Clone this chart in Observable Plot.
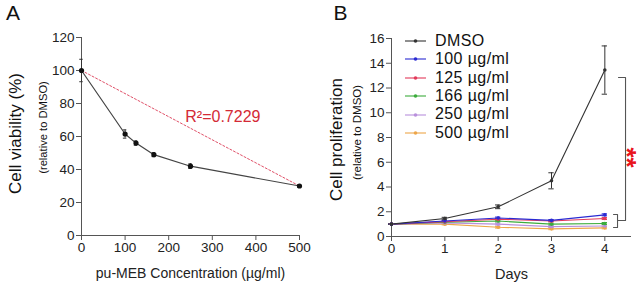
<!DOCTYPE html>
<html><head><meta charset="utf-8">
<script src="https://cdn.jsdelivr.net/npm/d3@7"></script>
<script src="https://cdn.jsdelivr.net/npm/@observablehq/plot@0.6"></script>
<style>
html,body{margin:0;padding:0;background:#fff;}
#wrap{position:relative;width:641px;height:287px;overflow:hidden;font-family:"Liberation Sans",Arial,sans-serif;}
#wrap > svg{position:absolute;top:0;}
#legend{position:absolute;left:405px;top:31.8px;}
.row{display:flex;align-items:center;height:18.4px;font-size:16px;line-height:18.4px;color:#111;white-space:nowrap;letter-spacing:0.4px;}
.row span{line-height:18.4px;height:18.4px;}
.row svg{margin-right:9px;}
</style></head><body><div id="wrap"></div>
<script>
// ---- Panel A data ----
const concentrations = [0, 100, 125, 166, 250, 500];
const viability = [100, 61.5, 56, 49, 42, 30];
const viabilityErr = [6.8, 2.5, 1.3, 1.2, 1.4, 0.8];
const fitX = [0, 500];
const fitY = [100, 30];
const fitLabel = "R\u00B2=0.7229";
const fitLabelPos = [238, 72];
const xTicksA = [0, 100, 200, 300, 400, 500];
const yTicksA = [0, 20, 40, 60, 80, 100, 120];

// ---- Panel B data ----
const days = [0, 1, 2, 3, 4];
const seriesNames = ["DMSO", "100 \u00B5g/ml", "125 \u00B5g/ml", "166 \u00B5g/ml", "250 \u00B5g/ml", "500 \u00B5g/ml"];
const seriesColors = ["#333333", "#2a2ad2", "#e23a5a", "#3cac3c", "#b990dc", "#eda64a"];
const dmso   = [1, 1.45, 2.4, 4.5, 13.45];
const c100   = [1, 1.25, 1.5, 1.3, 1.75];
const c125   = [1, 1.2, 1.4, 1.25, 1.45];
const c166   = [1, 1.15, 1.25, 1.0, 1.05];
const c250   = [1, 1.1, 1.0, 0.8, 0.85];
const c500   = [1, 1.0, 0.75, 0.62, 0.7];
const dmsoErr = [0.03, 0.1, 0.15, 0.65, 1.95];
const treatedErr = [0.03, 0.06, 0.07, 0.07, 0.08];
const xTicksB = [0, 1, 2, 3, 4];
const yTicksB = [0, 2, 4, 6, 8, 10, 12, 14, 16];
// significance bracket (in data units)
const bracketBigX = [4.256, 4.388, 4.388, 4.238];
const bracketBigY = [12.85, 12.85, 1.29, 1.29];
const bracketSmallX = [4.163, 4.238, 4.238, 4.163];
const bracketSmallY = [1.78, 1.78, 0.73, 0.73];
const sigLabel = "**";

const font = '"Liberation Sans", Arial, sans-serif';
const axisColor = "#555";

// ---- build Panel A ----
const tableA = concentrations.map((c, i) => ({c, v: viability[i], e: viabilityErr[i]}));
const fitTable = fitX.map((x, i) => ({x, y: fitY[i]}));
const capA = 4;

const figA = Plot.plot({
  width: 320, height: 287,
  marginLeft: 81, marginRight: 21, marginTop: 37, marginBottom: 52,
  style: {fontFamily: font, fontSize: "13.5px", color: "#222", background: "transparent", overflow: "visible"},
  x: {domain: [0, 500], label: null},
  y: {domain: [0, 120], label: null},
  marks: [
    Plot.ruleX([0], {stroke: axisColor}),
    Plot.ruleY([0], {stroke: axisColor}),
    Plot.axisX({ticks: xTicksA, tickFormat: "d", tickSize: 5, tickPadding: 2, stroke: axisColor, label: null, fontSize: 13.5}),
    Plot.axisY({ticks: yTicksA, tickFormat: "d", tickSize: 5, tickPadding: 2, stroke: axisColor, label: null, fontSize: 13.5}),
    Plot.line(fitTable, {x: "x", y: "y", stroke: "#e05068", strokeWidth: 1, strokeDasharray: "2,2"}),
    Plot.line(tableA, {x: "c", y: "v", stroke: "#444", strokeWidth: 1.2}),
    Plot.ruleX(tableA, {x: "c", y1: d => d.v - d.e, y2: d => d.v + d.e, stroke: "#333", strokeWidth: 1}),
    Plot.ruleY(tableA, {y: d => d.v + d.e, x1: d => d.c - capA, x2: d => d.c + capA, stroke: "#333"}),
    Plot.ruleY(tableA, {y: d => d.v - d.e, x1: d => d.c - capA, x2: d => d.c + capA, stroke: "#333"}),
    Plot.dot(tableA, {x: "c", y: "v", r: 2.6, fill: "#111", stroke: "none"}),
    Plot.text([fitLabel], {x: fitLabelPos[0], y: fitLabelPos[1], text: d => d, textAnchor: "start", fill: "#d42a36", fontSize: 16}),
    Plot.text(["A"], {frameAnchor: "top-left", textAnchor: "middle", lineAnchor: "middle", dx: -68.5, dy: -24.5, text: d => d, fontSize: 21, fill: "#111"}),
    Plot.text(["Cell viability (%)"], {frameAnchor: "left", textAnchor: "middle", lineAnchor: "middle", dx: -66, dy: -3, rotate: -90, text: d => d, fontSize: 17, fill: "#111"}),
    Plot.text(["(relative to DMSO)"], {frameAnchor: "left", textAnchor: "middle", lineAnchor: "middle", dx: -38, dy: -9, rotate: -90, text: d => d, fontSize: 11.2, fill: "#111"}),
    Plot.text(["pu-MEB Concentration (\u00B5g/ml)"], {frameAnchor: "bottom", textAnchor: "middle", lineAnchor: "middle", dy: 38, text: d => d, fontSize: 14, fill: "#222"})
  ]
});
figA.style.left = "0px";

// ---- build Panel B ----
const seriesValues = [dmso, c100, c125, c166, c250, c500];
const tableB = [];
// draw order: treated first (bottom to top), DMSO last
[5, 4, 3, 2, 1, 0].forEach(s => {
  days.forEach((d, i) => {
    tableB.push({series: seriesNames[s], day: d, value: seriesValues[s][i], err: s === 0 ? dmsoErr[i] : treatedErr[i]});
  });
});
const capB = 0.05;
const bigBracket = bracketBigX.map((x, i) => ({x, y: bracketBigY[i]}));
const smallBracket = bracketSmallX.map((x, i) => ({x, y: bracketSmallY[i]}));

const figB = Plot.plot({
  width: 321, height: 287,
  marginLeft: 71, marginRight: 10, marginTop: 38, marginBottom: 51,
  style: {fontFamily: font, fontSize: "13.5px", color: "#222", background: "transparent", overflow: "visible"},
  x: {domain: [0, 4.5], label: null},
  y: {domain: [0, 16], label: null},
  color: {domain: seriesNames, range: seriesColors},
  marks: [
    Plot.ruleX([0], {stroke: axisColor}),
    Plot.ruleY([0], {stroke: axisColor}),
    Plot.axisX({ticks: xTicksB, tickFormat: "d", tickSize: 5, tickPadding: 2, stroke: axisColor, label: null, fontSize: 13.5}),
    Plot.axisY({ticks: yTicksB, tickFormat: "d", tickSize: 5, tickPadding: 2, stroke: axisColor, label: null, fontSize: 13.5}),
    Plot.ruleX(tableB, {x: "day", y1: d => d.value - d.err, y2: d => d.value + d.err, stroke: "series", strokeWidth: 1}),
    Plot.ruleY(tableB, {y: d => d.value + d.err, x1: d => d.day - capB, x2: d => d.day + capB, stroke: "series"}),
    Plot.ruleY(tableB, {y: d => d.value - d.err, x1: d => d.day - capB, x2: d => d.day + capB, stroke: "series"}),
    Plot.line(tableB, {x: "day", y: "value", z: "series", stroke: "series", strokeWidth: 1.1}),
    Plot.dot(tableB, {x: "day", y: "value", r: 1.8, fill: "series", stroke: "none"}),
    Plot.line(bigBracket, {x: "x", y: "y", stroke: "#555", strokeWidth: 1.1}),
    Plot.line(smallBracket, {x: "x", y: "y", stroke: "#555", strokeWidth: 1.1}),
    Plot.text([sigLabel], {frameAnchor: "right", textAnchor: "middle", lineAnchor: "middle", dx: -5, dy: 20, rotate: 90, text: d => d, fill: "#e8141c", fontSize: 26, fontWeight: "bold"}),
    Plot.text(["B"], {frameAnchor: "top-left", textAnchor: "middle", lineAnchor: "middle", dx: -51, dy: -25.5, text: d => d, fontSize: 21, fill: "#111"}),
    Plot.text(["Cell proliferation"], {frameAnchor: "left", textAnchor: "middle", lineAnchor: "middle", dx: -55, dy: 2, rotate: -90, text: d => d, fontSize: 17, fill: "#111"}),
    Plot.text(["(relative to DMSO)"], {frameAnchor: "left", textAnchor: "middle", lineAnchor: "middle", dx: -34, dy: -5, rotate: -90, text: d => d, fontSize: 11.5, fill: "#111"}),
    Plot.text(["Days"], {frameAnchor: "bottom", textAnchor: "middle", lineAnchor: "middle", dy: 38, text: d => d, fontSize: 14.5, fill: "#222"})
  ]
});
figB.style.left = "320px";

const wrap = document.getElementById("wrap");
wrap.appendChild(figA);
wrap.appendChild(figB);

// ---- legend (HTML, overlaid) ----
const legend = document.createElement("div");
legend.id = "legend";
seriesNames.forEach((name, i) => {
  const row = document.createElement("div");
  row.className = "row";
  const sw = d3.create("svg").attr("width", 21).attr("height", 6);
  sw.append("line").attr("x1", 0).attr("x2", 21).attr("y1", 3).attr("y2", 3).attr("stroke", seriesColors[i]).attr("stroke-width", 1.1);
  sw.append("circle").attr("cx", 10.5).attr("cy", 3).attr("r", 1.8).attr("fill", seriesColors[i]);
  row.appendChild(sw.node());
  const t = document.createElement("span");
  t.textContent = name;
  row.appendChild(t);
  legend.appendChild(row);
});
wrap.appendChild(legend);
</script></body></html>
